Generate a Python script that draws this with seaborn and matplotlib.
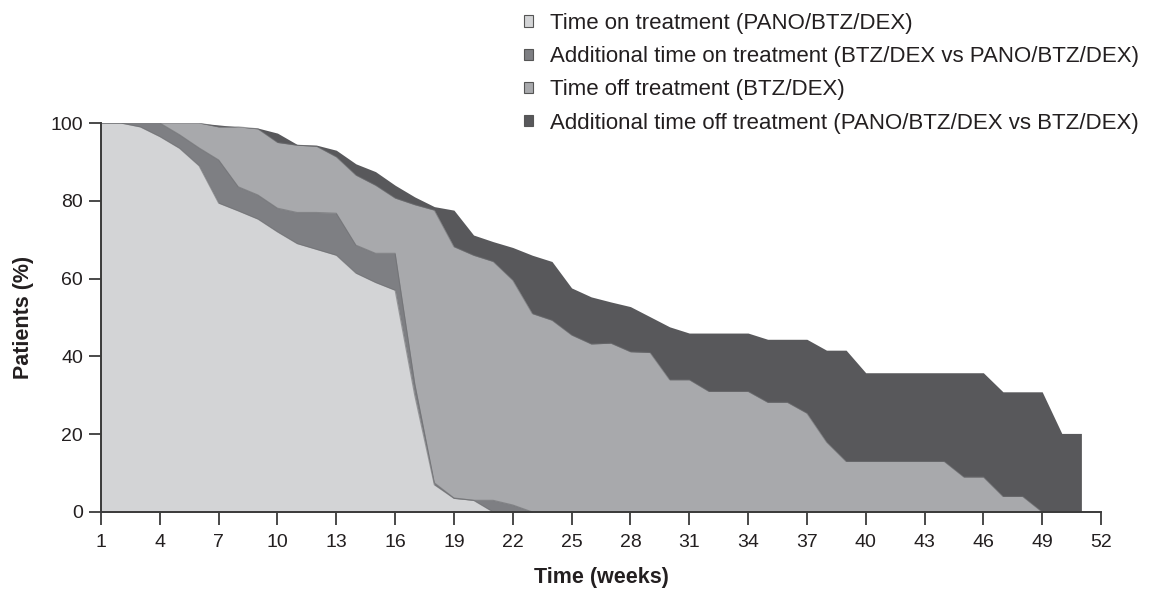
import matplotlib
matplotlib.use('Agg')
import matplotlib.pyplot as plt
import matplotlib.patches as mpatches
import numpy as np
import pandas as pd
import seaborn as sns

weeks = list(range(1, 52))

on_pano = [100, 100, 99, 96.5, 93.5, 89, 79.4, 77.4, 75.3, 72, 69, 67.5, 66, 61.4, 59, 57, 30, 7, 3.5, 3,
           0, 0, 0, 0, 0, 0, 0, 0, 0, 0, 0, 0, 0, 0, 0, 0, 0, 0, 0, 0, 0, 0, 0, 0, 0, 0, 0, 0, 0, 0, 0]
on_btz = [100, 100, 100, 100, 97, 93.6, 90.5, 83.6, 81.5, 78.1, 77, 77, 76.8, 68.6, 66.5, 66.5, 33, 7.5, 3.6, 3,
          3, 1.8, 0, 0, 0, 0, 0, 0, 0, 0, 0, 0, 0, 0, 0, 0, 0, 0, 0, 0, 0, 0, 0, 0, 0, 0, 0, 0, 0, 0, 0]
off_btz = [100, 100, 100, 100, 100, 100, 99, 99, 98.5, 95, 94.3, 94, 91.3, 86.6, 84, 80.7, 79, 77.6, 68.2, 66,
           64.4, 59.6, 51, 49.3, 45.5, 43.2, 43.4, 41.2, 41, 34, 34, 31, 31, 31, 28.2, 28.2, 25.4, 18, 13, 13,
           13, 13, 13, 13, 9, 9, 4, 4, 0, 0, 0]
off_pano = [100, 100, 100, 100, 100, 100, 99.5, 99, 98.7, 97.4, 94.5, 94.3, 93, 89.5, 87.5, 84, 81, 78.5, 77.6, 71.2,
            69.5, 68, 66, 64.4, 57.6, 55.3, 54, 52.8, 50.2, 47.6, 46, 46, 46, 46, 44.4, 44.4, 44.4, 41.6, 41.6, 35.8,
            35.8, 35.8, 35.8, 35.8, 35.8, 35.8, 30.9, 30.9, 30.9, 20.2, 20.2]

labels = ['Time on treatment (PANO/BTZ/DEX)',
          'Additional time on treatment (BTZ/DEX vs PANO/BTZ/DEX)',
          'Time off treatment (BTZ/DEX)',
          'Additional time off treatment (PANO/BTZ/DEX vs BTZ/DEX)']
colors = ['#d3d4d6', '#7e7f83', '#a8a9ac', '#58585b']

sns.set_style('ticks')
plt.rcParams['font.family'] = ['Liberation Sans', 'DejaVu Sans']
text_color = '#231f20'

df = pd.DataFrame({'week': weeks, 'on_pano': on_pano, 'on_btz': on_btz,
                   'off_btz': off_btz, 'off_pano': off_pano})

fig = plt.figure(figsize=(11.5, 5.94), dpi=100)
ax = fig.add_axes([101 / 1150, 1 - 512 / 594, 1000 / 1150, 389 / 594])

# back to front: widest envelope first
for col, c in zip(['off_pano', 'off_btz', 'on_btz', 'on_pano'], colors[::-1]):
    ax.fill_between(df['week'], 0, df[col], color=c, linewidth=0)
for col in ['off_btz', 'on_btz', 'on_pano']:
    sns.lineplot(data=df, x='week', y=col, ax=ax, color='#6d6e71', linewidth=0.8, alpha=0.6)

ax.set_xlim(1, 52)
ax.set_ylim(0, 100)
ax.set_xticks(range(1, 53, 3))
ax.set_yticks(range(0, 101, 20))
ax.tick_params(axis='both', labelsize=14, colors='#3a3a3a', labelcolor=text_color, length=9, width=1.3)
ax.tick_params(axis='x', pad=7)
ax.tick_params(axis='y', pad=4)
ax.set_xlabel('Time (weeks)', fontsize=15.5, fontweight='bold', color=text_color, labelpad=11)
ax.set_ylabel('Patients (%)', fontsize=15.5, fontweight='bold', color=text_color, labelpad=12)
sns.despine(ax=ax)
for s in ['left', 'bottom']:
    ax.spines[s].set_linewidth(1.4)
    ax.spines[s].set_color('#3a3a3a')

handles = [mpatches.Patch(facecolor=c, edgecolor='#555555', linewidth=0.8) for c in colors]
fig.legend(handles=handles, labels=labels, loc='upper left', bbox_to_anchor=(504 / 1150, 1 + 7 / 594),
           frameon=False, fontsize=16, handlelength=0.4, handleheight=0.4, handletextpad=0.75,
           labelspacing=0.55, labelcolor=text_color)

fig.savefig('out.png', dpi=100)
